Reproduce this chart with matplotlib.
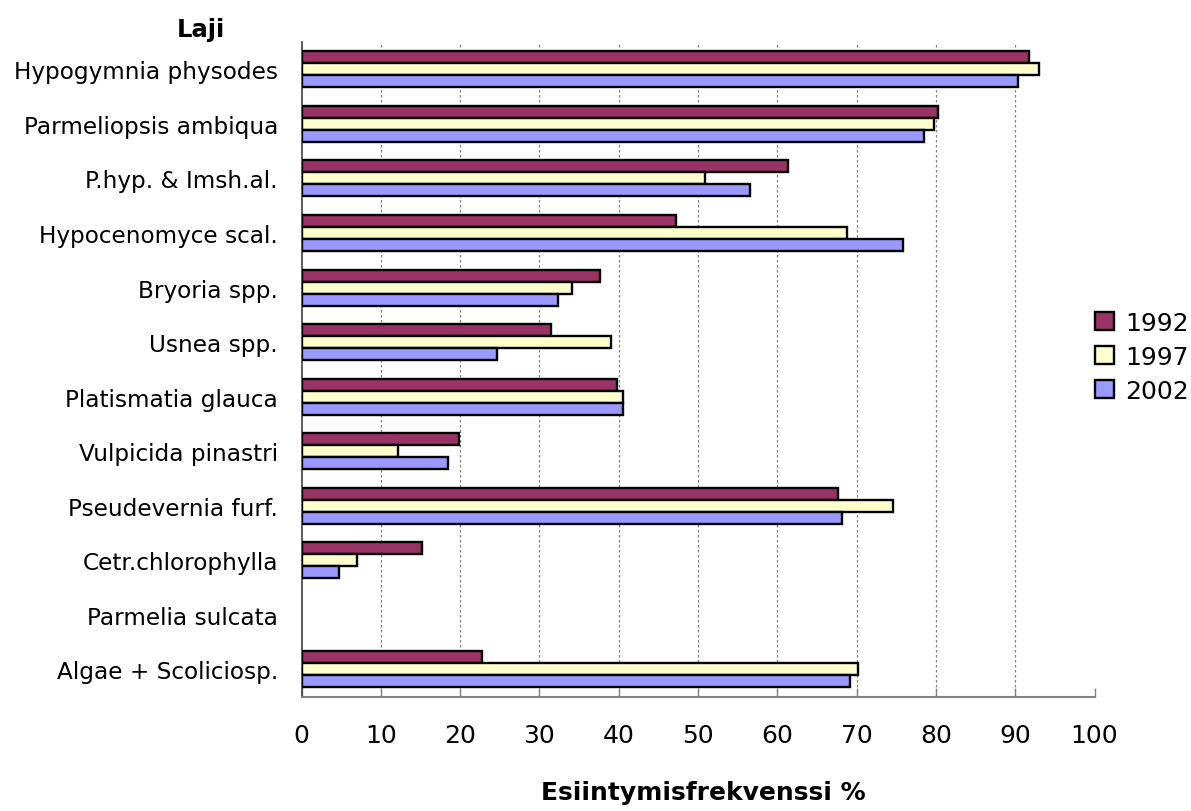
import matplotlib
matplotlib.use("Agg")
import matplotlib.pyplot as plt
import numpy as np

plt.rcParams['font.family'] = ['DejaVu Sans']

species = [
    "Hypogymnia physodes",
    "Parmeliopsis ambiqua",
    "P.hyp. & Imsh.al.",
    "Hypocenomyce scal.",
    "Bryoria spp.",
    "Usnea spp.",
    "Platismatia glauca",
    "Vulpicida pinastri",
    "Pseudevernia furf.",
    "Cetr.chlorophylla",
    "Parmelia sulcata",
    "Algae + Scoliciosp.",
]
years = ["1992", "1997", "2002"]
freq_1992 = [91.7, 80.3, 61.4, 47.2, 37.7, 31.5, 39.8, 19.8, 67.6, 15.2, 0.0, 22.7]
freq_1997 = [93.0, 79.8, 50.9, 68.8, 34.1, 39.0, 40.5, 12.2, 74.6, 7.0, 0.0, 70.2]
freq_2002 = [90.4, 78.5, 56.6, 75.9, 32.3, 24.7, 40.5, 18.5, 68.1, 4.7, 0.0, 69.2]
x_ticks = [0, 10, 20, 30, 40, 50, 60, 70, 80, 90, 100]

colors = ["#993366", "#FFFFCC", "#9999FF"]
series = [freq_1992, freq_1997, freq_2002]

W, H = 1191, 812
fig = plt.figure(figsize=(W / 100, H / 100), dpi=100)
ax = fig.add_axes([301.5 / W, 1 - 697.7 / H, (1094.5 - 301.5) / W, (697.7 - 43) / H])

pos = np.arange(len(species))
bh = 0.22
for k, (vals, col, yr) in enumerate(zip(series, colors, years)):
    # empty categories get no outline, so nothing is drawn for them
    lws = [1.7 if v > 0 else 0 for v in vals]
    ax.barh(pos + (k - 1) * bh, vals, height=bh, color=col, edgecolor="black",
            linewidth=lws, label=yr, zorder=3)

ax.set_xlim(0, 100)
ax.set_ylim(len(species) - 0.5, -0.5)
ax.set_xticks(x_ticks)
ax.set_xticklabels([str(t) for t in x_ticks], fontsize=18)
ax.set_yticks(pos)
ax.set_yticklabels(species, fontsize=16.7)

ax.tick_params(axis="x", direction="in", length=6.5, width=1, color="#808080", pad=19)
ax.tick_params(axis="y", length=0, pad=17)

for s in ["top", "right"]:
    ax.spines[s].set_visible(False)
ax.spines["left"].set_color("#404040")
ax.spines["bottom"].set_color("#808080")
ax.spines["left"].set_linewidth(1.2)
ax.spines["bottom"].set_linewidth(1.5)

for t in x_ticks[1:-1]:
    ax.axvline(t, color="#808080", linestyle=(0, (2, 2)), linewidth=0.9, zorder=1)

fig.text(201 / W, 1 - 37 / H, "Laji", fontsize=17.5, fontweight="bold",
         ha="center", va="baseline")
fig.text(703 / W, 1 - 793 / H, "Esiintymisfrekvenssi %", fontsize=18,
         fontweight="bold", ha="center", va="center")

fig.legend(loc="center left", bbox_to_anchor=(1095 / W, 1 - 358 / H),
           frameon=False, fontsize=18, handlelength=0.75, handleheight=0.75,
           handletextpad=0.45, labelspacing=0.4, borderaxespad=0, borderpad=0)

fig.savefig("out.png", dpi=100)
